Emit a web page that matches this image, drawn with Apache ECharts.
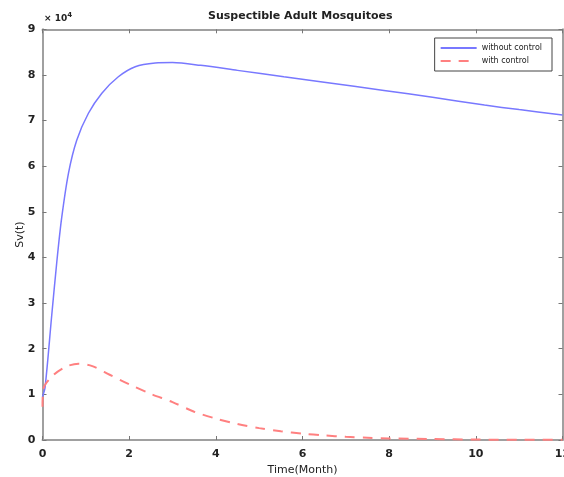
<!DOCTYPE html>
<html><head><meta charset="utf-8">
<script src="https://cdn.jsdelivr.net/npm/echarts@6/dist/echarts.min.js"></script>
<style>html,body{margin:0;padding:0;background:#fff}#c{width:564px;height:477px}</style>
</head><body><div id="c"></div>
<script>
// Values in units of 10^4
var tWithout = [0, 0.06, 0.21, 0.33, 0.44, 0.6, 0.79, 1.06, 1.37, 1.75, 2.14, 2.6, 3.0, 3.65, 4.5, 5.57, 6.5, 7.88, 9, 10.2, 11, 12];
var vWithout = [0.95, 1.16, 2.7, 3.9, 4.85, 5.85, 6.57, 7.16, 7.6, 7.96, 8.18, 8.26, 8.27, 8.21, 8.1, 7.96, 7.84, 7.66, 7.51, 7.34, 7.24, 7.12];
var tWith = [0, 0.02, 0.25, 0.55, 0.83, 1.15, 1.55, 2.0, 2.5, 3.0, 3.5, 4.0, 4.5, 5.0, 5.5, 6.0, 6.5, 7, 7.5, 8, 9, 10, 11, 12];
var vWith = [0.73, 1.12, 1.42, 1.61, 1.67, 1.62, 1.43, 1.22, 1.01, 0.83, 0.62, 0.47, 0.35, 0.26, 0.19, 0.14, 0.1, 0.07, 0.05, 0.035, 0.02, 0.01, 0.005, 0.003];
var seriesNames = ['without control', 'with control'];
var xTicks = [0, 2, 4, 6, 8, 10, 12];
var yTicks = [0, 1, 2, 3, 4, 5, 6, 7, 8, 9];

function pairs(t, v) { return t.map(function (x, i) { return [x, v[i]]; }); }
var axisCol = '#a0a0a0';
var tickStyle = { show: true, inside: true, length: 4, lineStyle: { color: '#777' } };
var lblFont = { fontFamily: 'DejaVu Sans', fontWeight: 'bold', fontSize: 11, color: '#222' };
var chart = echarts.init(document.getElementById('c'), null, { renderer: 'canvas' });
chart.setOption({
  animation: false,
  backgroundColor: '#fff',
  title: {
    text: 'Suspectible Adult Mosquitoes', left: 203, top: 6,
    textStyle: { fontFamily: 'DejaVu Sans', fontWeight: 'bold', fontSize: 11, color: '#222' }
  },
  graphic: [{
    type: 'text', left: 44, top: 12,
    style: { text: '× 10{s|4}', rich: { s: { fontSize: 7, verticalAlign: 'top', padding: [0, 0, 6, 0], fontWeight: 'bold', fontFamily: 'DejaVu Sans' } }, fontFamily: 'DejaVu Sans', fontWeight: 'bold', fontSize: 9, fill: '#222' }
  }],
  legend: {
    right: 12, top: 38, orient: 'vertical', itemWidth: 36, itemHeight: 10, itemGap: 5,
    borderColor: '#444', borderWidth: 1, padding: [6, 10, 6, 5], backgroundColor: '#fff',
    itemStyle: { opacity: 0 },
    textStyle: { fontFamily: 'DejaVu Sans', fontSize: 8, color: '#222' },
    data: seriesNames
  },
  grid: { left: 42.5, right: 1.5, top: 29.3, bottom: 37, containLabel: false, outerBoundsMode: 'none' },
  xAxis: [{
    type: 'value', min: xTicks[0], max: xTicks[xTicks.length - 1], interval: 2,
    name: 'Time(Month)', nameLocation: 'middle', nameGap: 25, nameMoveOverlap: false,
    nameTextStyle: { fontFamily: 'DejaVu Sans', fontSize: 11, color: '#222' },
    axisLine: { show: true, onZero: false, lineStyle: { color: axisCol, width: 2 } },
    axisTick: tickStyle,
    axisLabel: Object.assign({ margin: 9, hideOverlap: false }, lblFont),
    splitLine: { show: false }
  }, {
    type: 'value', position: 'top', min: 0, max: 12, interval: 2,
    axisLine: { show: true, onZero: false, lineStyle: { color: axisCol, width: 2 } },
    axisTick: tickStyle,
    axisLabel: { show: false }, splitLine: { show: false }
  }],
  yAxis: [{
    type: 'value', min: yTicks[0], max: yTicks[yTicks.length - 1], interval: 1,
    name: 'Sv(t)', nameLocation: 'middle', nameGap: 17, nameRotate: 90, nameMoveOverlap: false,
    nameTextStyle: { fontFamily: 'DejaVu Sans', fontSize: 11, color: '#222' },
    axisLine: { show: true, onZero: false, lineStyle: { color: axisCol, width: 2 } },
    axisTick: tickStyle,
    axisLabel: Object.assign({ margin: 7 }, lblFont),
    splitLine: { show: false }
  }, {
    type: 'value', position: 'right', min: 0, max: 9, interval: 1,
    axisLine: { show: true, onZero: false, lineStyle: { color: axisCol, width: 2 } },
    axisTick: tickStyle,
    axisLabel: { show: false }, splitLine: { show: false }
  }],
  series: [{
    name: seriesNames[0], type: 'line', smooth: 0.3, symbol: 'none',
    data: pairs(tWithout, vWithout),
    itemStyle: { color: '#7878ff' },
    lineStyle: { color: '#7878ff', width: 1.5 }
  }, {
    name: seriesNames[1], type: 'line', smooth: 0.3, symbol: 'none',
    data: pairs(tWith, vWith),
    itemStyle: { color: '#ff8080' },
    lineStyle: { color: '#ff8080', width: 2, type: [10, 8] }
  }]
});
</script></body></html>
